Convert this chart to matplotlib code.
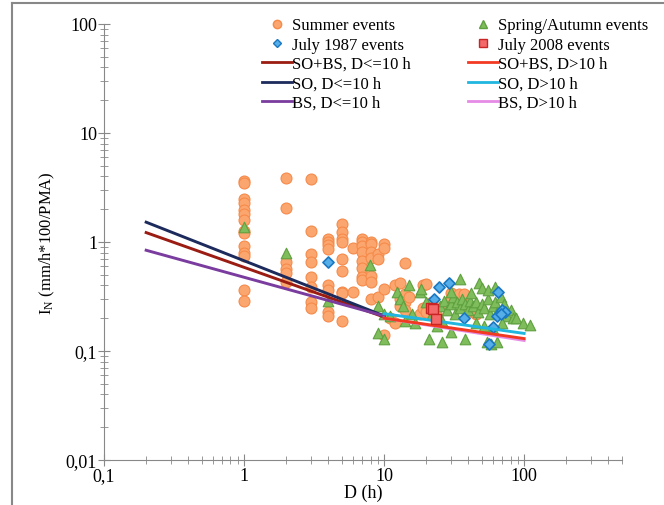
import matplotlib
matplotlib.use('Agg')
import matplotlib.pyplot as plt
from matplotlib.lines import Line2D
from matplotlib.ticker import LogLocator, NullFormatter

plt.rcParams['font.family'] = ['Liberation Serif', 'DejaVu Serif']
plt.rcParams['mathtext.fontset'] = 'custom'
plt.rcParams['mathtext.rm'] = 'Liberation Serif'
plt.rcParams['mathtext.it'] = 'Liberation Serif:italic'

# summer events (D in h, I_N)
summer_d = [1]*14 + [2]*6 + [3]*8 + [4]*8 + [5]*9 + [6]*2 + [7]*8 + [8]*7 + [9]*3 + [10]*4 \
    + [11, 12, 12, 13, 13, 13, 14, 14, 14, 14, 15, 18, 19, 19, 20, 20, 22, 24, 27, 30, 30, 34, 37, 37, 43, 45]
summer_i = [3.6, 3.5, 2.5, 2.3, 1.95, 1.8, 1.6, 1.25, 1.2, 0.92, 0.8, 0.75, 0.36, 0.29,
            3.9, 2.05, 0.65, 0.57, 0.52, 0.43,
            3.8, 1.25, 0.78, 0.66, 0.48, 0.39, 0.28, 0.25,
            1.07, 1.0, 0.94, 0.86, 0.40, 0.36, 0.23, 0.21,
            1.46, 1.23, 1.07, 1.0, 0.7, 0.54, 0.35, 0.34, 0.19,
            0.88, 0.35,
            1.07, 1.0, 0.92, 0.81, 0.67, 0.58, 0.48, 0.45,
            1.0, 0.95, 0.81, 0.72, 0.49, 0.43, 0.30,
            0.78, 0.70, 0.31,
            0.95, 0.88, 0.37, 0.14,
            0.20, 0.40, 0.18, 0.42, 0.30, 0.26, 0.64, 0.33, 0.28, 0.24, 0.31, 0.22, 0.40, 0.25,
            0.41, 0.23, 0.28, 0.21, 0.26, 0.34, 0.30, 0.33, 0.33, 0.27, 0.23, 0.22]

# spring / autumn events
spring_d = [1, 2, 4, 7.9, 9, 10, 9, 10, 11, 12.3, 13, 15, 13.6, 15.8, 16.6, 14, 18, 18.5, 21, 26,
            30, 38, 54, 58, 64, 35, 48, 50, 25, 27, 28, 30, 31, 32, 33, 35, 36, 38, 40, 41,
            43, 45, 47, 50, 52, 55, 57, 60, 62, 64, 68, 72, 75, 80, 83, 88, 98, 110, 20, 22,
            24, 26, 45, 52, 60, 70, 42, 30, 55, 62]
spring_i = [1.37, 0.79, 0.29, 0.62, 0.145, 0.13, 0.26, 0.22, 0.21, 0.35, 0.30, 0.40, 0.26, 0.22, 0.18, 0.19, 0.35, 0.37, 0.13, 0.12,
            0.15, 0.13, 0.12, 0.115, 0.12, 0.46, 0.42, 0.38, 0.26, 0.29, 0.24, 0.27, 0.31, 0.22, 0.28, 0.25, 0.30, 0.27, 0.24, 0.29,
            0.26, 0.28, 0.23, 0.27, 0.25, 0.30, 0.22, 0.26, 0.28, 0.23, 0.31, 0.27, 0.21, 0.24, 0.20, 0.20, 0.18, 0.175, 0.28, 0.22,
            0.17, 0.19, 0.18, 0.17, 0.16, 0.18, 0.34, 0.35, 0.36, 0.39]

# July 1987 events
jul87_d = [4, 22.6, 24.6, 29, 37, 56, 60, 64, 65, 70, 73, 68]
jul87_i = [0.65, 0.30, 0.39, 0.42, 0.20, 0.116, 0.166, 0.21, 0.35, 0.24, 0.23, 0.22]

# July 2008 events
jul08_d = [21.5, 22.5, 23.5]
jul08_i = [0.25, 0.245, 0.195]

# regression lines (end points)
line_labels = ['SO+BS, D<=10 h', 'SO, D<=10 h', 'BS, D<=10 h',
               'SO+BS, D>10 h', 'SO, D>10 h', 'BS, D>10 h']
line_d = [[0.2, 10], [0.2, 10], [0.2, 10], [10, 100], [10, 100], [10, 100]]
line_i = [[1.22, 0.205], [1.52, 0.21], [0.84, 0.21], [0.2, 0.13], [0.22, 0.145], [0.2, 0.125]]
line_colors = ['#9a1c12', '#1c2a5c', '#7a3c9e', '#f23a22', '#20b6df', '#e68be6']

fig = plt.figure(figsize=(6.64, 5.06), dpi=100)
ax = fig.add_axes([104/664, 1-461/506, 518/664, 436/506])

ax.scatter(summer_d, summer_i, s=62, marker='o', facecolor='#fba66e', edgecolor='#f58a4a', linewidth=0.8,
           label='Summer events', zorder=2)
ax.scatter(spring_d, spring_i, s=58, marker='^', facecolor='#7ebc5c', edgecolor='#5fa03f', linewidth=0.8,
           label='Spring/Autumn events', zorder=2)
ax.scatter(jul87_d, jul87_i, s=32, marker='D', facecolor='#55aee8', edgecolor='#1a78c2', linewidth=1.2,
           label='July 1987 events', zorder=3)
for k in [0, 1, 2, 5, 3, 4]:
    ax.plot(line_d[k], line_i[k], color=line_colors[k], lw=2.1, zorder=4)
ax.scatter(jul08_d, jul08_i, s=60, marker='s', facecolor='#f36868', edgecolor='#c92525', linewidth=1,
           label='July 2008 events', zorder=5)

ax.set_xscale('log')
ax.set_yscale('log')
ax.set_xlim(0.1, 500)
ax.set_ylim(0.01, 100)
ax.set_xticks([0.1, 1, 10, 100], ['0,1', '1', '10', '100'])
ax.set_yticks([0.01, 0.1, 1, 10, 100], ['0,01', '0,1', '1', '10', '100'])
ax.xaxis.set_minor_locator(LogLocator(base=10, subs=range(2, 10)))
ax.yaxis.set_minor_locator(LogLocator(base=10, subs=range(2, 10)))
ax.xaxis.set_minor_formatter(NullFormatter())
ax.yaxis.set_minor_formatter(NullFormatter())
for s in ['top', 'right']:
    ax.spines[s].set_visible(False)
for s in ['left', 'bottom']:
    ax.spines[s].set_color('#888888')
ax.tick_params(which='major', direction='inout', length=8, color='#888888', labelsize=13, pad=1)
ax.tick_params(which='minor', direction='inout', length=6, color='#888888')
ax.set_xlabel('D (h)', fontsize=13, labelpad=0)
ax.set_ylabel('I$_{\\mathrm{N}}$ (mm/h*100/PMA)', fontsize=12, labelpad=6)

# legend
sc = lambda m, fc, ec, ms: Line2D([], [], ls='', marker=m, markerfacecolor=fc, markeredgecolor=ec, markersize=ms)
h = [sc('o', '#fba66e', '#f58a4a', 6), sc('D', '#55aee8', '#1a78c2', 4.5)]
h += [Line2D([], [], color=line_colors[k], lw=2) for k in range(3)]
h += [sc('^', '#7ebc5c', '#5fa03f', 6), sc('s', '#f36868', '#c92525', 6)]
h += [Line2D([], [], color=line_colors[k], lw=2) for k in range(3, 6)]
labs = ['Summer events', 'July 1987 events'] + line_labels[:3] + ['Spring/Autumn events', 'July 2008 events'] + line_labels[3:]
fig.legend(h, labs, ncol=2, loc='upper left', bbox_to_anchor=(254/664, 1-10/506), frameon=False,
           fontsize=12, handlelength=1.8, handletextpad=0.0, columnspacing=3.4, labelspacing=0.2,
           borderpad=0)

# outer frame of the figure
fig.add_artist(Line2D([12/664, 12/664], [0, 1-4/506], color='#888888', lw=1.5, transform=fig.transFigure))
fig.add_artist(Line2D([12/664, 1], [1-4/506, 1-4/506], color='#888888', lw=1.5, transform=fig.transFigure))

fig.savefig('out.png', dpi=100)
